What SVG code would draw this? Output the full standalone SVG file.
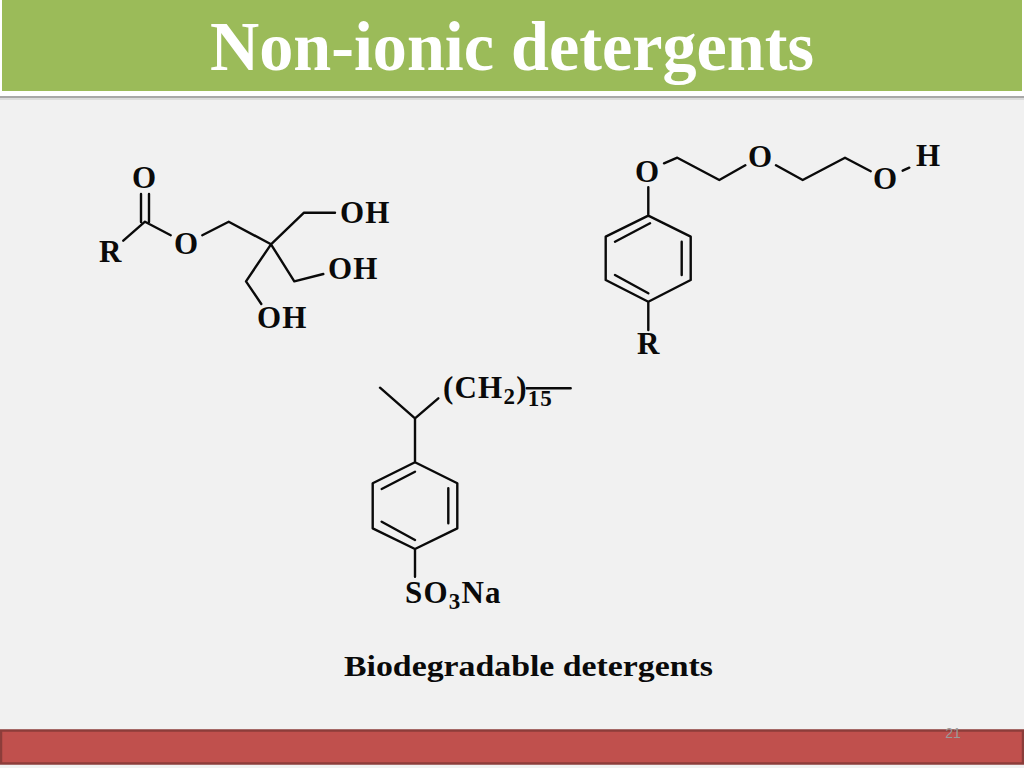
<svg xmlns="http://www.w3.org/2000/svg" width="1024" height="768" viewBox="0 0 1024 768">
<style>
text{font-family:"Liberation Serif","Times New Roman",serif;font-weight:bold;fill:#0a0a0a}
.a{font-size:31px;letter-spacing:1.2px}
.s{font-size:23px}
.b{fill:none;stroke:#0a0a0a;stroke-width:2.4;stroke-linejoin:round;stroke-linecap:round}
</style>
<rect width="1024" height="768" fill="#f1f1f1"/>
<g id="header">
<rect x="0" y="0" width="1024" height="96" fill="#ffffff"/>
<rect x="0" y="96" width="1024" height="2" fill="#a8a8a8"/>
<rect x="0" y="98" width="1024" height="2" fill="#dcdcdc"/>
<rect x="2" y="0" width="1020" height="91" fill="#9bbb59"/>
<text x="210" y="70" font-size="69" style="fill:#fff" textLength="604" lengthAdjust="spacingAndGlyphs">Non-ionic detergents</text>
</g>
<g id="footer">
<rect x="1" y="730.5" width="1022" height="33" fill="#c0504d" stroke="#8c3d3a" stroke-width="2.5"/>
<text x="953" y="738" text-anchor="middle" font-size="14" style="fill:#9a9a9a;font-weight:normal;font-family:'Liberation Sans',sans-serif">21</text>
</g>
<g id="connectors">
<path class="b" d="M123.3 240.7L145 221.7L170.7 235.3M141 194V222M149 194V222M202.3 235.3L228.7 221.7L271 244.3M271 244.3L304 212.7H335M271 244.3L294.3 281.3L323.3 274M271 244.3L246 281.3L261.3 304"/>
<path class="b" d="M664 163.3L677.3 157.7L719.3 180L745.3 165.3M776 165.3L802.7 180L845 157.7L870.7 171.3M902.7 170.7L909.3 167.7M648.3 187.3V215.7L690.7 236.7V280L648.3 301.7L605.7 280V236.7L648.3 215.7M615 241.7L650 223.3M681.7 241.7V275M615 275L648.3 293.3M648.3 301.7V330"/>
<path class="b" d="M380 387.7L415 418.3L438.3 398.3M415 418.3V462.3L457.3 483.3V528.3L415 549L372.7 528.3V483.3L415 462.3M381.7 489L415 471.7M448.3 488.3V523.3M381.7 521.7L415 540M415 549V576.7M526.7 388.3H570.7"/>
</g>
<g id="ester">
<text class="a" x="132" y="188">O</text>
<text class="a" x="99" y="262">R</text>
<text class="a" x="174" y="254">O</text>
<text class="a" x="340" y="222.500">OH</text>
<text class="a" x="328" y="279">OH</text>
<text class="a" x="257" y="328">OH</text>
</g>
<g id="ether">
<text class="a" x="635" y="182">O</text>
<text class="a" x="748" y="167">O</text>
<text class="a" x="873" y="189">O</text>
<text class="a" x="916" y="166">H</text>
<text class="a" x="637" y="354">R</text>
</g>
<g id="sulfonate">
<text class="a" x="443" y="397.500">(CH<tspan class="s" dy="6">2</tspan><tspan dy="-6">)</tspan><tspan class="s" dy="8">15</tspan></text>
<text class="a" x="405" y="602.500">SO<tspan class="s" dy="6">3</tspan><tspan dy="-6">Na</tspan></text>
</g>
<g id="caption">
<text x="344" y="676" font-size="29" textLength="369" lengthAdjust="spacingAndGlyphs">Biodegradable detergents</text>
</g>
</svg>
